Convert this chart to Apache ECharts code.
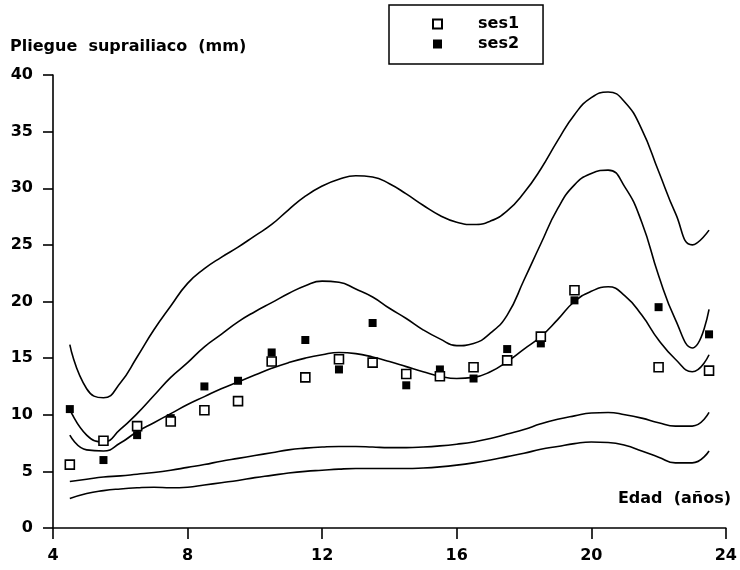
<!DOCTYPE html>
<html>
<head>
<meta charset="utf-8">
<title>Pliegue suprailiaco</title>
<script src="https://cdn.jsdelivr.net/npm/echarts@6/dist/echarts.min.js"></script>
<style>
  html, body { margin: 0; padding: 0; background: #ffffff; }
  #chart { width: 740px; height: 570px; }
</style>
</head>
<body>
<div id="chart"></div>
<script>
// Ages (years) of the measured groups
const ages = [4.5, 5.5, 6.5, 7.5, 8.5, 9.5, 10.5, 11.5, 12.5, 13.5, 14.5, 15.5, 16.5, 17.5, 18.5, 19.5, 22, 23.5];
// Mean suprailiac skinfold (mm), two socioeconomic strata
const ses1 = [5.6, 7.7, 9.0, 9.4, 10.4, 11.2, 14.7, 13.3, 14.9, 14.6, 13.6, 13.4, 14.2, 14.8, 16.9, 21.0, 14.2, 13.9];
const ses2 = [10.5, 6.0, 8.2, 9.7, 12.5, 13.0, 15.5, 16.6, 14.0, 18.1, 12.6, 14.0, 13.2, 15.8, 16.3, 20.1, 19.5, 17.1];

// Reference percentile curves, sampled every half year
const curveAges = [4.5, 5, 5.5, 6, 6.5, 7, 7.5, 8, 8.5, 9, 9.5, 10, 10.5, 11, 11.5, 12, 12.5, 13, 13.5, 14,
  14.5, 15, 15.5, 16, 16.5, 17, 17.5, 18, 18.5, 19, 19.5, 20, 20.5, 21, 21.5, 22, 22.5, 23, 23.5];
const p97 = [16.2, 12.3, 11.5, 12.8, 15.1, 17.5, 19.6, 21.6, 22.9, 23.9, 24.8, 25.8, 26.8, 28.1, 29.3, 30.2, 30.8, 31.1, 31.0, 30.4,
  29.5, 28.5, 27.6, 27.0, 26.8, 27.1, 28.0, 29.6, 31.7, 34.2, 36.5, 38.0, 38.5, 37.6, 35.2, 31.5, 27.8, 25.0, 26.3];
const p90 = [10.5, 8.2, 7.6, 8.7, 10.1, 11.7, 13.3, 14.6, 16.0, 17.1, 18.2, 19.1, 19.9, 20.7, 21.4, 21.8, 21.7, 21.1, 20.4, 19.4,
  18.5, 17.5, 16.7, 16.1, 16.3, 17.2, 18.8, 21.9, 25.1, 28.2, 30.3, 31.3, 31.6, 30.1, 27.0, 22.3, 18.4, 15.9, 19.3];
const p50 = [8.2, 6.9, 6.8, 7.5, 8.5, 9.3, 10.1, 10.9, 11.6, 12.3, 12.9, 13.5, 14.1, 14.6, 15.0, 15.3, 15.5, 15.4, 15.1, 14.7,
  14.25, 13.8, 13.4, 13.2, 13.3, 13.8, 14.7, 15.8, 16.9, 18.4, 20.0, 20.9, 21.3, 20.5, 18.8, 16.6, 14.9, 13.8, 15.3];
const p10 = [4.1, 4.3, 4.5, 4.6, 4.75, 4.9, 5.1, 5.35, 5.6, 5.9, 6.15, 6.4, 6.65, 6.9, 7.05, 7.15, 7.2, 7.2, 7.15, 7.1,
  7.1, 7.15, 7.25, 7.4, 7.6, 7.9, 8.3, 8.7, 9.2, 9.6, 9.9, 10.15, 10.2, 10.0, 9.7, 9.3, 9.0, 9.0, 10.2];
const p3 = [2.6, 3.05, 3.3, 3.45, 3.55, 3.6, 3.55, 3.6, 3.8, 4.0, 4.2, 4.45, 4.65, 4.85, 5.0, 5.1, 5.2, 5.25, 5.25, 5.25,
  5.25, 5.3, 5.4, 5.55, 5.75, 6.0, 6.3, 6.6, 6.95, 7.2, 7.45, 7.6, 7.55, 7.3, 6.8, 6.25, 5.75, 5.75, 6.8];

// Axis ticks
const xTicks = [4, 8, 12, 16, 20, 24];
const yTicks = [0, 5, 10, 15, 20, 25, 30, 35, 40];

const FONT = '"DejaVu Sans", "Liberation Sans", Arial, sans-serif';
const INK = '#000000';

const zip = (xs, ys) => xs.map((x, i) => [x, ys[i]]);

const curveSeries = [p3, p10, p50, p90, p97].map((vals) => ({
  type: 'line',
  data: zip(curveAges, vals),
  smooth: 0.5,
  showSymbol: false,
  silent: true,
  lineStyle: { color: INK, width: 1.6 },
  z: 2
}));

const chart = echarts.init(document.getElementById('chart'), null, { renderer: 'canvas' });

chart.setOption({
  backgroundColor: '#ffffff',
  animation: false,
  textStyle: { fontFamily: FONT, color: INK },
  grid: { left: 53, right: 10, top: 75, bottom: 42 },
  xAxis: {
    type: 'value',
    min: xTicks[0],
    max: xTicks[xTicks.length - 1],
    interval: xTicks[1] - xTicks[0],
    axisLine: { show: true, lineStyle: { color: INK, width: 1.6 } },
    axisTick: { show: true, inside: false, length: 11, lineStyle: { color: INK, width: 1.6 } },
    axisLabel: { color: INK, fontFamily: FONT, fontWeight: 'bold', fontSize: 16, margin: 20 },
    splitLine: { show: false }
  },
  yAxis: {
    type: 'value',
    min: yTicks[0],
    max: yTicks[yTicks.length - 1],
    interval: yTicks[1] - yTicks[0],
    axisLine: { show: true, lineStyle: { color: INK, width: 1.6 } },
    axisTick: { show: true, inside: false, length: 10, lineStyle: { color: INK, width: 1.6 } },
    axisLabel: { color: INK, fontFamily: FONT, fontWeight: 'bold', fontSize: 16, margin: 20 },
    splitLine: { show: false }
  },
  legend: {
    data: ['ses1', 'ses2'],
    orient: 'vertical',
    left: 389,
    top: 5,
    padding: [11, 24, 12, 43],
    itemGap: 4,
    itemWidth: 9,
    itemHeight: 9,
    borderColor: INK,
    borderWidth: 1.5,
    backgroundColor: '#ffffff',
    selectedMode: false,
    textStyle: {
      color: INK, fontFamily: FONT, fontWeight: 'bold', fontSize: 16,
      lineHeight: 16, padding: [0, 0, 0, 31]
    }
  },
  graphic: [
    {
      type: 'text',
      left: 10,
      top: 39,
      style: { text: 'Pliegue  suprailiaco  (mm)', fill: INK, font: 'bold 16px ' + FONT }
    },
    {
      type: 'text',
      right: 9,
      top: 491,
      style: { text: 'Edad  (años)', fill: INK, font: 'bold 16px ' + FONT }
    }
  ],
  series: [
    ...curveSeries,
    {
      name: 'ses1',
      type: 'scatter',
      data: zip(ages, ses1),
      symbol: 'rect',
      symbolSize: 9,
      itemStyle: { color: '#ffffff', borderColor: INK, borderWidth: 1.6, opacity: 1 },
      z: 4
    },
    {
      name: 'ses2',
      type: 'scatter',
      data: zip(ages, ses2),
      symbol: 'rect',
      symbolSize: 8,
      itemStyle: { color: INK, borderColor: INK, borderWidth: 0, opacity: 1 },
      z: 3
    }
  ]
});
</script>
</body>
</html>
